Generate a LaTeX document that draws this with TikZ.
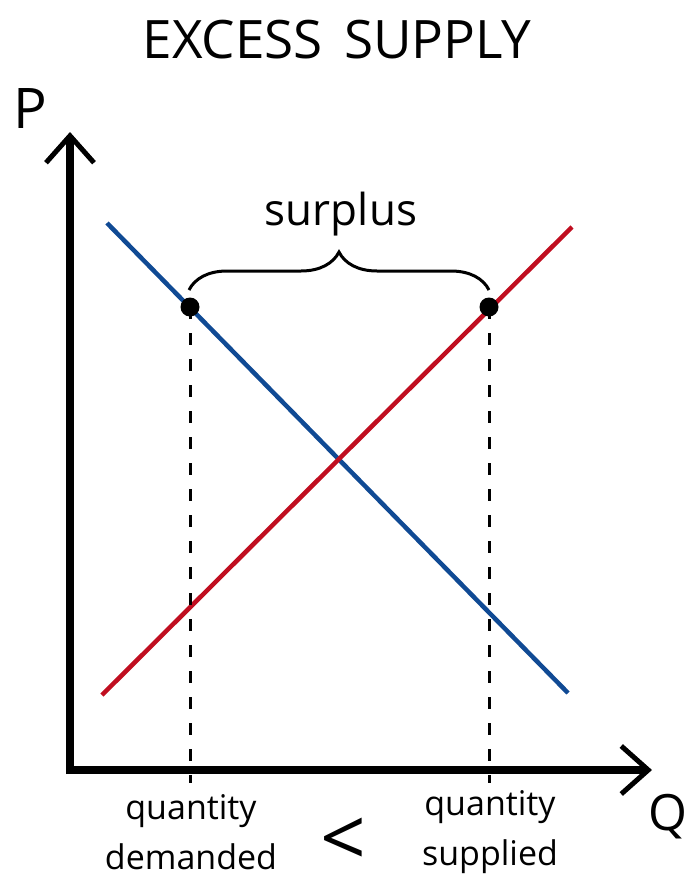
\documentclass[tikz,border=0pt]{standalone}
\usepackage{fontspec}
\setmainfont{Open Sans}
\usetikzlibrary{
  arrows.meta,
  positioning,
  decorations.pathreplacing
}
\definecolor{demandblue}{RGB}{16,74,148}
\definecolor{supplyred}{RGB}{192,14,32}

\tikzset{
  axis/.style={line width=7.5pt, -{Straight Barb[length=27pt,width=48pt,line width=5pt]}},
  curve/.style={line width=4.5pt},
  guide/.style={line width=3pt, dash pattern=on 12pt off 14pt},
  pt/.style={circle, fill=black, inner sep=0pt, minimum size=19pt},
  label/.style={font=\fontsize{34}{50}\selectfont, align=center}
}

\begin{document}
\begin{tikzpicture}[x=1pt, y=-1pt]
  \useasboundingbox (0,0) rectangle (687,889);
  % axes
  \coordinate (corner) at (70,770);
  \coordinate (ytip) at (70,132);
  \coordinate (xtip) at (652,770);
  \draw[axis] ([yshift=-4pt]corner) -- (ytip);
  \draw[axis] ([xshift=-4pt]corner) -- (xtip);
  \node[font=\fontsize{56}{60}\selectfont, anchor=base] (plabel) at (30,128) {P};
  \node[font=\fontsize{50}{60}\selectfont, anchor=base, inner sep=0pt] (qlabel) at (668,830) {Q};
  \node[font=\fontsize{53}{60}\selectfont, anchor=base] (title) at (337,58) {EXCESS\hspace{0.4em}SUPPLY};
  % demand and supply
  \coordinate (d1) at (107,223);
  \coordinate (d2) at (568,693);
  \coordinate (s1) at (102,695);
  \coordinate (s2) at (572,227);
  \draw[curve, demandblue] (d1) -- (d2);
  \draw[curve, supplyred] (s1) -- (s2);
  % quantities at the price
  \node[pt] (qd) at (190,307) {};
  \node[pt] (qs) at (489,307) {};
  \coordinate (qdfoot) at (190,783);
  \coordinate (qsfoot) at (489,783);
  \draw[guide] (qd.center) -- (qdfoot);
  \draw[guide] (qs.center) -- (qsfoot);
  \coordinate (bl) at (189,290);
  \coordinate (br) at (489,290);
  \draw[line width=3pt, decorate, decoration={brace, amplitude=38pt}] (bl) -- (br);
  \node[font=\fontsize{44}{50}\selectfont, anchor=base] (surplus) at (341,225) {surplus};
  \node[label] (demlabel) at (191,832) {quantity\\demanded};
  \node[label] (suplabel) at (490,832) {quantity\\supplied};
  \node[font=\fontsize{80}{80}\selectfont, anchor=base, inner sep=0pt, text depth=0pt] (less) at (343,866) {<};
\end{tikzpicture}
\end{document}
